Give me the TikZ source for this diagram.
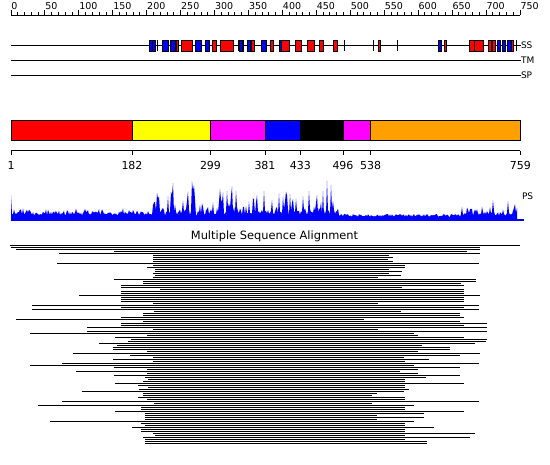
\documentclass[tikz,border=0pt]{standalone}
\usepackage{fontspec}
\setmainfont{DejaVu Sans}
\definecolor{domred}{RGB}{255,0,0}
\definecolor{domyellow}{RGB}{255,255,0}
\definecolor{dommagenta}{RGB}{255,0,255}
\definecolor{domblue}{RGB}{0,0,255}
\definecolor{domorange}{RGB}{255,160,0}
\begin{document}
\begin{tikzpicture}[x=1pt,y=-1pt,line width=1pt,
  rulelab/.style={font=\fontsize{9.5}{10}\selectfont,inner sep=0pt,anchor=base west},
  tracklab/.style={font=\fontsize{9}{10}\selectfont,inner sep=0pt,anchor=west},
  domlab/.style={font=\fontsize{11}{12}\selectfont,inner sep=0pt,anchor=base},
  ssbox/.style={draw=black,line width=0.7pt}]
\useasboundingbox[fill=white] (0,0) rectangle (550,465);
% ruler
\draw (11,15.5) -- (520,15.5);
\foreach \v in {0,10,...,750}{
  \draw ({11+\v*0.67867},15.5) -- ({11+\v*0.67867},12.5);
}
\foreach \v in {0,50,...,750}{
  \draw ({11+\v*0.67867},15.5) -- ({11+\v*0.67867},10.5);
  \node[rulelab] (r\v) at ({11+\v*0.67867},10) {\v};
}
% tracks
\node[tracklab] (ss) at (520.5,45.5) {SS};
\node[tracklab] (tm) at (520.5,60.5) {TM};
\node[tracklab] (sp) at (520.5,75.5) {SP};
\draw (11,45.5) -- (ss.west);
\draw (11,60.5) -- (tm.west);
\draw (11,75.5) -- (sp.west);
\foreach \a/\b/\c in {149.3/152/domblue,152.7/155.3/domblue,162/168/domblue,170.3/175.7/domblue,
  176/178.7/domred,181/192.3/domred,195/201.7/domblue,205/209.7/domblue,212/216.7/domred,
  220.3/233.7/domred,239.7/242.3/domblue,242.3/243.7/domred,247.3/250/domblue,251.7/254.3/domred,
  261/266.7/domblue,270/273/domred,279.3/281.7/domblue,281.7/289.3/domred,295.3/301.7/domred,
  307/314/domred,319.3/323.7/domred,333.3/337.7/domred,378.3/380.7/domred,438.3/441/domblue,
  444/446.7/domred,469.3/474/domred,474.3/483.3/domred,488/491.7/domred,492.7/495.3/domred,
  497.3/500.7/domblue,502.7/505.7/domblue,507.7/511/domblue,511/513.3/domred}{
  \filldraw[fill=\c,ssbox] (\a,40) rectangle (\b,51);
}
\foreach \x in {157.8,238.7,344.7,373.3,397.7,516}{
  \draw (\x,40) -- (\x,51);
}
% domains
\foreach \a/\b/\c in {11/132/domred,132/210.5/domyellow,210.5/265/dommagenta,265/300.3/domblue,
  300.3/343/black,343/370.7/dommagenta,370.7/520.3/domorange}{
  \filldraw[fill=\c,draw=black] (\a,120.5) rectangle (\b,140.5);
}
\draw (11,151) -- (520.3,151);
\foreach \x/\lab in {11/1,132/182,210.5/299,265/381,300.3/433,343/496,370.7/538,520.3/759}{
  \draw (\x,151) -- (\x,155);
  \node[domlab] (d\lab) at (\x,170) {\lab};
}
% PS profile
\pgfmathsetseed{7}
\fill[domblue] (11,221) -- (11,195) -- (12,214)
  -- plot[domain=13:151,samples=139] (\x,{215.5-4*rnd-4*rnd^3})
  -- plot[domain=152:340,samples=189] (\x,{216-6*rnd-30*rnd^4})
  -- plot[domain=341:460,samples=120] (\x,{217-3*rnd})
  -- plot[domain=461:517,samples=57] (\x,{216-4*rnd-12*rnd^3})
  -- (517,221) -- cycle;
\fill[domblue] (11,219.5) rectangle (524,221);
\node[tracklab] (ps) at (521.5,196) {PS};
% alignment
\node[font=\fontsize{11.4}{12}\selectfont,inner sep=0pt,anchor=base] (msa) at (274.5,240) {Multiple Sequence Alignment};
\foreach \a/\b [count=\i] in {10/520,11/480,16/480,114/467,59/480,153/389,153/393,153/388,
  153/393,57/479,153/405,147/405,155/389,155/402,153/389,155/401,153/378,114/476,143/476,
  143/461,121/464,121/402,160/464,121/464,121/464,79/480,121/464,121/464,121/464,153/378,
  32/479,121/464,32/479,154/401,143/460,143/460,121/464,16/364,143/460,121/487,121/464,
  87/487,153/378,87/487,30/414,147/418,115/464,131/487,128/486,99/475,117/422,113/450,
  113/450,147/418,73/480,130/460,153/404,113/429,153/405,62/479,30/414,114/460,147/418,
  76/400,147/418,114/460,145/426,148/405,143/405,115/464,138/405,148/405,139/409,82/404,
  143/377,143/372,138/405,147/405,62/479,154/372,38/414,141/405,141/405,115/464,145/424,
  145/377,145/424,145/377,50/414,141/405,145/405,132/434,141/405,141/405,153/475,155/405,
  143/470,145/405,145/427,145/427}{
  \draw (\a,243.5+2*\i) -- (\b,243.5+2*\i);
}
\end{tikzpicture}
\end{document}
